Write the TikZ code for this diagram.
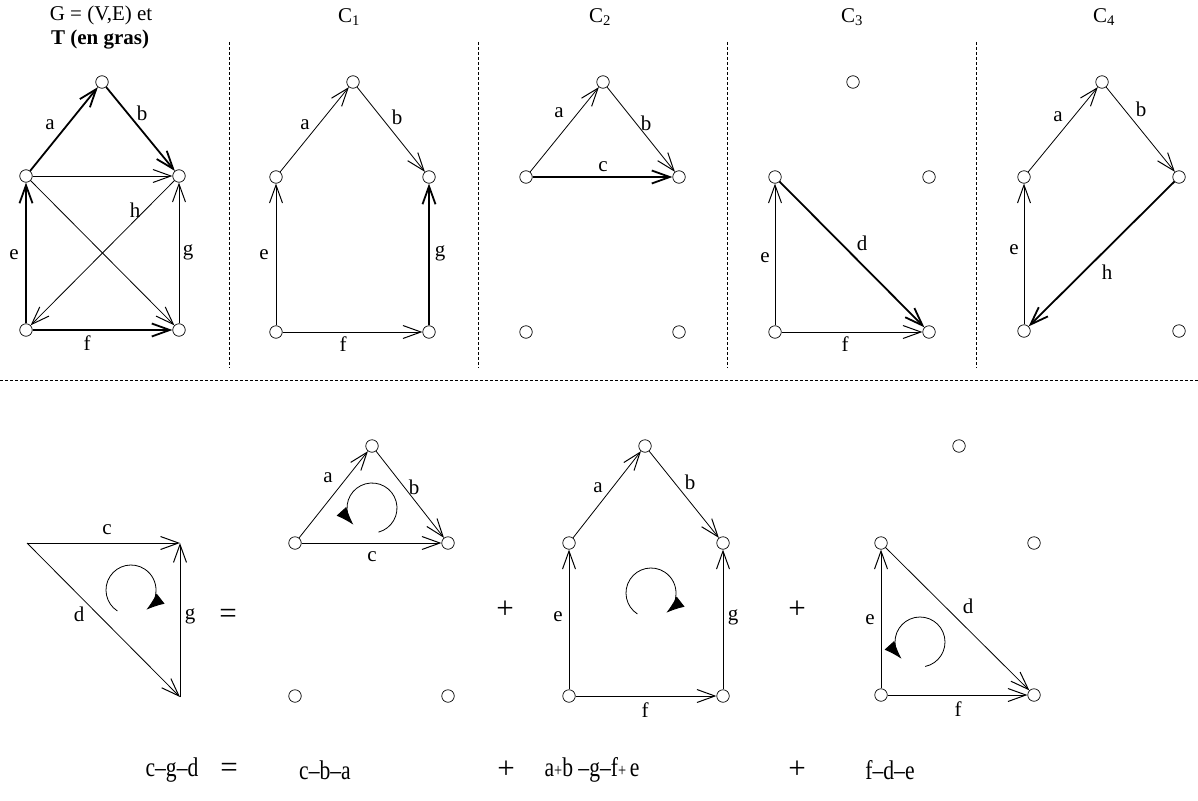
\documentclass[tikz,border=0pt]{standalone}
\usepackage{fontspec}
\usepackage{graphicx}
\setmainfont{Liberation Serif}
\usetikzlibrary{arrows.meta}
\newcommand\lblfont{\fontsize{21}{25}\selectfont}
\newcommand\eqfont{\fontsize{27}{31}\selectfont}
\newcommand\bigopfont{\fontsize{31}{35}\selectfont}
\newcommand\eqtxt[1]{\scalebox{0.8}[1]{#1}}
\tikzset{
  vtx/.style={circle,draw,fill=white,inner sep=0pt,minimum size=12.5pt,line width=0.7pt},
  tn/.style={line width=0.8pt,-{Straight Barb[length=18pt,width=13pt,line width=1pt]}},
  tk/.style={line width=1.8pt,-{Straight Barb[length=18pt,width=13pt,line width=1.8pt]}},
  lbl/.style={font=\lblfont,inner sep=0pt},
  hdr/.style={font=\lblfont,inner sep=0pt},
  sep/.style={line width=0.6pt,dash pattern=on 3pt off 2pt},
  rot/.style={line width=0.8pt,-{Latex[length=18pt,width=13pt]}},
  eqt/.style={font=\eqfont,inner sep=0pt},
  bop/.style={font=\bigopfont,inner sep=0pt}
}
\begin{document}
\begin{tikzpicture}[x=1pt,y=-1pt]
\useasboundingbox (0,0) rectangle (1198,800);

% ---------- headers ----------
\node[hdr] (t1) at (101,15) {G = (V,E) et};
\node[hdr] (t2) at (100,40) {\textbf{T (en gras)}};
\node[hdr] (h1) at (349,17) {C\textsubscript{1}};
\node[hdr] (h2) at (600,17) {C\textsubscript{2}};
\node[hdr] (h3) at (852,17) {C\textsubscript{3}};
\node[hdr] (h4) at (1104,17) {C\textsubscript{4}};

% ---------- separators ----------
\coordinate (s1a) at (229,42); \coordinate (s1b) at (229,368);
\coordinate (s2a) at (478,42); \coordinate (s2b) at (478,368);
\coordinate (s3a) at (727,42); \coordinate (s3b) at (727,368);
\coordinate (s4a) at (976,42); \coordinate (s4b) at (976,368);
\coordinate (hza) at (0,380); \coordinate (hzb) at (1198,380);
\draw[sep] (s1a) -- (s1b);
\draw[sep] (s2a) -- (s2b);
\draw[sep] (s3a) -- (s3b);
\draw[sep] (s4a) -- (s4b);
\draw[sep] (hza) -- (hzb);

% ---------- G ----------
\node[vtx] (gt) at (102,82) {};
\node[vtx] (gl) at (26,176) {};
\node[vtx] (gr) at (179,176) {};
\node[vtx] (gbl) at (26,330) {};
\node[vtx] (gbr) at (179,330) {};
\draw[tk] (gl) -- (gt);
\draw[tk] (gt) -- (gr);
\draw[tn] (gl) -- (gr);
\draw[tn] (gl) -- (gbr);
\draw[tn] (gr) -- (gbl);
\draw[tk] (gbl) -- (gl);
\draw[tk] (gbl) -- (gbr);
\draw[tn] (gbr) -- (gr);
\node[lbl] (ga) at (50,125) {a};
\node[lbl] (gb) at (142,113) {b};
\node[lbl] (gh) at (135,210) {h};
\node[lbl] (ge) at (14,255) {e};
\node[lbl] (gg) at (188,252) {g};
\node[lbl] (gf) at (87,343) {f};

% ---------- C1 ----------
\node[vtx] (at) at (353,82) {};
\node[vtx] (al) at (276,177) {};
\node[vtx] (ar) at (429,177) {};
\node[vtx] (abl) at (276,332) {};
\node[vtx] (abr) at (429,332) {};
\draw[tn] (al) -- (at);
\draw[tn] (at) -- (ar);
\draw[tn] (abl) -- (al);
\draw[tn] (abl) -- (abr);
\draw[tk] (abr) -- (ar);
\node[lbl] (aa) at (305,125) {a};
\node[lbl] (ab) at (397,117) {b};
\node[lbl] (ae) at (264,255) {e};
\node[lbl] (ag) at (440,253) {g};
\node[lbl] (af) at (343,344) {f};

% ---------- C2 ----------
\node[vtx] (bt) at (603,82) {};
\node[vtx] (bl) at (526,177) {};
\node[vtx] (br) at (679,177) {};
\node[vtx] (bbl) at (526,332) {};
\node[vtx] (bbr) at (679,332) {};
\draw[tn] (bl) -- (bt);
\draw[tn] (bt) -- (br);
\draw[tk] (bl) -- (br);
\node[lbl] (ba) at (559,113) {a};
\node[lbl] (bb) at (646,123) {b};
\node[lbl] (bc) at (603,167) {c};

% ---------- C3 ----------
\node[vtx] (ct) at (853,82) {};
\node[vtx] (cl) at (775,177) {};
\node[vtx] (cr) at (929,177) {};
\node[vtx] (cbl) at (775,332) {};
\node[vtx] (cbr) at (929,332) {};
\draw[tk] (cl) -- (cbr);
\draw[tn] (cbl) -- (cl);
\draw[tn] (cbl) -- (cbr);
\node[lbl] (cd) at (862,243) {d};
\node[lbl] (ce) at (765,258) {e};
\node[lbl] (cf) at (845,344) {f};

% ---------- C4 ----------
\node[vtx] (dt) at (1102,82) {};
\node[vtx] (dl) at (1024,177) {};
\node[vtx] (dr) at (1179,177) {};
\node[vtx] (dbl) at (1024,331) {};
\node[vtx] (dbr) at (1179,331) {};
\draw[tn] (dl) -- (dt);
\draw[tn] (dt) -- (dr);
\draw[tk] (dr) -- (dbl);
\draw[tn] (dbl) -- (dl);
\node[lbl] (da) at (1058,117) {a};
\node[lbl] (db) at (1141,109) {b};
\node[lbl] (de) at (1014,250) {e};
\node[lbl] (dh) at (1107,272) {h};

% ---------- bottom: cycle c-g-d ----------
\coordinate (p1) at (27,543);
\coordinate (p2) at (180,543);
\coordinate (p3) at (180,697);
\draw[tn] (p1) -- (p2);
\draw[tn] (p3) -- (p2);
\draw[tn] (p1) -- (p3);
\node[lbl] (pc) at (107,530) {c};
\node[lbl] (pd) at (79,614) {d};
\node[lbl] (pg) at (190,616) {g};
\coordinate (pz) at (131,590);
\draw[rot] (pz) ++(-237:25) arc[start angle=-237,end angle=52,radius=25];
\node[bop] (eq1) at (228,616) {=};

% ---------- bottom: C2 ----------
\node[vtx] (et) at (372,446) {};
\node[vtx] (el) at (295,543) {};
\node[vtx] (er) at (448,543) {};
\node[vtx] (ebl) at (295,696) {};
\node[vtx] (ebr) at (448,696) {};
\draw[tn] (el) -- (et);
\draw[tn] (et) -- (er);
\draw[tn] (el) -- (er);
\node[lbl] (ea) at (328,478) {a};
\node[lbl] (eb) at (414,487) {b};
\node[lbl] (ec) at (372,557) {c};
\coordinate (ez) at (372,508);
\draw[rot] (ez) ++(75:25) arc[start angle=75,end angle=-222,radius=25];
\node[bop] (pl1) at (505,610) {+};

% ---------- bottom: C1 ----------
\node[vtx] (ft) at (645,446) {};
\node[vtx] (fl) at (569,543) {};
\node[vtx] (fr) at (723,543) {};
\node[vtx] (fbl) at (569,696) {};
\node[vtx] (fbr) at (723,696) {};
\draw[tn] (fl) -- (ft);
\draw[tn] (ft) -- (fr);
\draw[tn] (fbl) -- (fl);
\draw[tn] (fbl) -- (fbr);
\draw[tn] (fbr) -- (fr);
\node[lbl] (fa) at (598,488) {a};
\node[lbl] (fb) at (690,482) {b};
\node[lbl] (fe) at (558,617) {e};
\node[lbl] (fg) at (733,617) {g};
\node[lbl] (ff) at (645,710) {f};
\coordinate (fz) at (651,593);
\draw[rot] (fz) ++(-237:25) arc[start angle=-237,end angle=52,radius=25];
\node[bop] (pl2) at (797,610) {+};

% ---------- bottom: C3 ----------
\node[vtx] (kt) at (959,446) {};
\node[vtx] (kl) at (881,543) {};
\node[vtx] (kr) at (1034,543) {};
\node[vtx] (kbl) at (881,695) {};
\node[vtx] (kbr) at (1034,695) {};
\draw[tn] (kl) -- (kbr);
\draw[tn] (kbl) -- (kl);
\draw[tn] (kbl) -- (kbr);
\node[lbl] (kd) at (968,606) {d};
\node[lbl] (ke) at (870,620) {e};
\node[lbl] (kf) at (958,709) {f};
\coordinate (kz) at (920,642);
\draw[rot] (kz) ++(78:25) arc[start angle=78,end angle=-222,radius=25];

% ---------- equation row ----------
\node[eqt] (q1) at (172,770) {\eqtxt{c–g–d}};
\node[bop] (q2) at (229,770) {=};
\node[eqt] (q3) at (325,770) {\eqtxt{c–b–a}};
\node[bop] (q4) at (506,770) {+};
\node[eqt] (q5) at (592,770) {\eqtxt{a{\fontsize{18}{20}\selectfont+}b –g–f{\fontsize{18}{20}\selectfont+}\,e}};
\node[bop] (q6) at (797,770) {+};
\node[eqt] (q7) at (890,770) {\eqtxt{f–d–e}};
\end{tikzpicture}
\end{document}
